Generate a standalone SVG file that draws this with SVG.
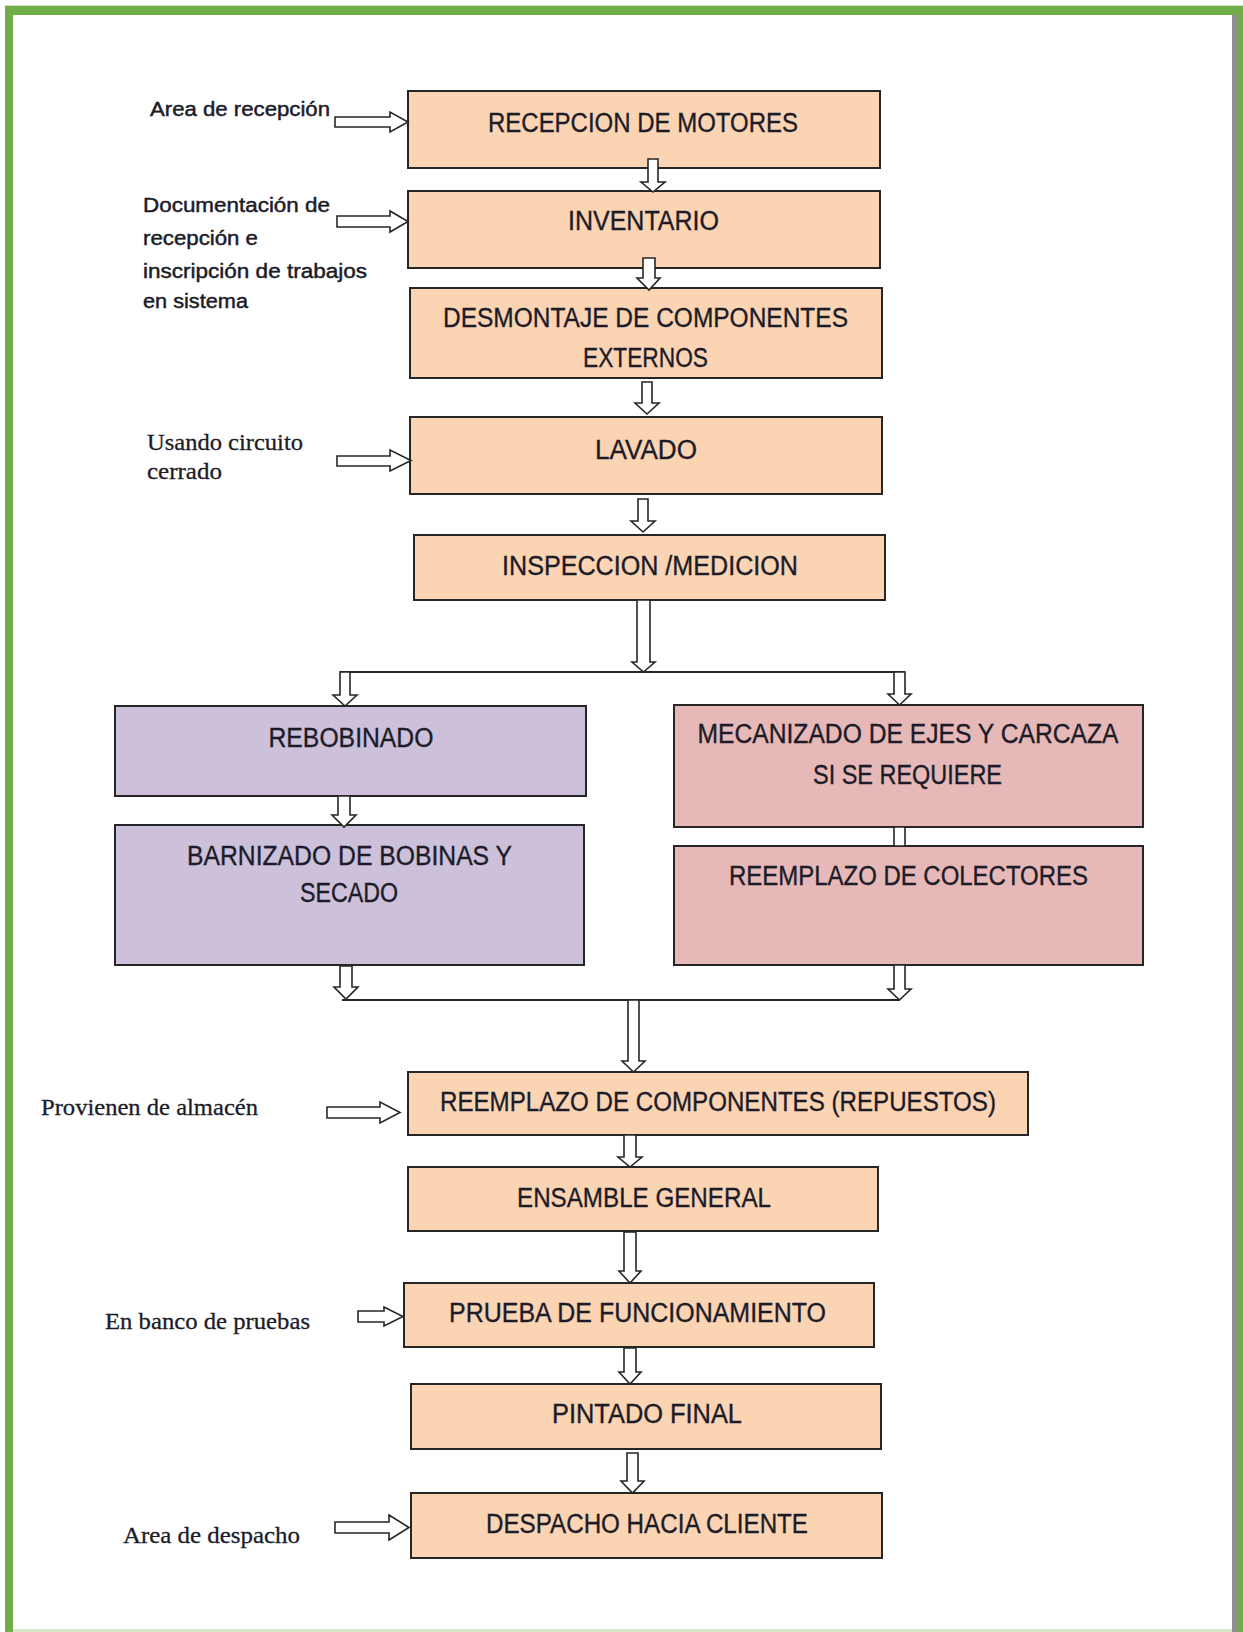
<svg xmlns="http://www.w3.org/2000/svg" width="1243" height="1632" viewBox="0 0 1243 1632">
<style>
.peach{fill:#FBD4B4;stroke:#262626;stroke-width:2}
.purple{fill:#CCC0DA;stroke:#262626;stroke-width:2}
.pink{fill:#E6B8B7;stroke:#262626;stroke-width:2}
.bt{font-family:"Liberation Sans",Arial,sans-serif;font-size:27px;fill:#1c1c28;stroke:#1c1c28;stroke-width:0.35;text-anchor:middle}
.ls{font-family:"Liberation Sans",Arial,sans-serif;font-size:20px;fill:#1c1c28;stroke:#1c1c28;stroke-width:0.45}
.lr{font-family:"Liberation Serif","Times New Roman",serif;font-size:24px;fill:#1c1c28;stroke:#1c1c28;stroke-width:0.3}
.arr{fill:#ffffff;stroke:#262626;stroke-width:1.6;stroke-linejoin:miter}
.ln{fill:none;stroke:#262626;stroke-width:2}
</style>
<rect x="0" y="0" width="1243" height="1632" fill="#ffffff"/>
<g id="frame">
<rect x="5" y="5" width="1238" height="1" fill="#cfe3c0"/>
<rect x="5" y="6" width="1238" height="9" fill="#70AD47"/>
<rect x="5" y="6" width="8" height="1626" fill="#70AD47"/>
<rect x="1232" y="15" width="5" height="1617" fill="#8f8f8f"/>
<rect x="1237" y="6" width="6" height="1626" fill="#70AD47"/>
<rect x="13" y="1629" width="1219" height="3" fill="#d8e7cc"/>
</g>

<g id="n1"><rect class="peach" x="408" y="91" width="472" height="77"/><text class="bt" x="643" y="132" textLength="310" lengthAdjust="spacingAndGlyphs">RECEPCION DE MOTORES</text></g>
<g id="n2"><rect class="peach" x="408" y="191" width="472" height="77"/><text class="bt" x="643.5" y="230" textLength="151" lengthAdjust="spacingAndGlyphs">INVENTARIO</text></g>
<g id="n3"><rect class="peach" x="410" y="288" width="472" height="90"/><text class="bt" x="645.5" y="327" textLength="405" lengthAdjust="spacingAndGlyphs">DESMONTAJE DE COMPONENTES</text><text class="bt" x="645.5" y="367" textLength="125" lengthAdjust="spacingAndGlyphs">EXTERNOS</text></g>
<g id="n4"><rect class="peach" x="410" y="417" width="472" height="77"/><text class="bt" x="646" y="459" textLength="102" lengthAdjust="spacingAndGlyphs">LAVADO</text></g>
<g id="n5"><rect class="peach" x="414" y="535" width="471" height="65"/><text class="bt" x="650" y="575" textLength="296" lengthAdjust="spacingAndGlyphs">INSPECCION /MEDICION</text></g>
<g id="n6"><rect class="purple" x="115" y="706" width="471" height="90"/><text class="bt" x="351" y="747" textLength="165" lengthAdjust="spacingAndGlyphs">REBOBINADO</text></g>
<g id="n7"><rect class="purple" x="115" y="825" width="469" height="140"/><text class="bt" x="349.5" y="865" textLength="325" lengthAdjust="spacingAndGlyphs">BARNIZADO DE BOBINAS Y</text><text class="bt" x="349" y="902" textLength="98" lengthAdjust="spacingAndGlyphs">SECADO</text></g>
<g id="n8"><rect class="pink" x="674" y="705" width="469" height="122"/><text class="bt" x="908" y="743" textLength="421" lengthAdjust="spacingAndGlyphs">MECANIZADO DE EJES Y CARCAZA</text><text class="bt" x="907.5" y="784" textLength="189" lengthAdjust="spacingAndGlyphs">SI SE REQUIERE</text></g>
<g id="n9"><rect class="pink" x="674" y="846" width="469" height="119"/><text class="bt" x="908.5" y="885" textLength="359" lengthAdjust="spacingAndGlyphs">REEMPLAZO DE COLECTORES</text></g>
<g id="n10"><rect class="peach" x="408" y="1072" width="620" height="63"/><text class="bt" x="718" y="1111" textLength="556" lengthAdjust="spacingAndGlyphs">REEMPLAZO DE COMPONENTES (REPUESTOS)</text></g>
<g id="n11"><rect class="peach" x="408" y="1167" width="470" height="64"/><text class="bt" x="644" y="1207" textLength="254" lengthAdjust="spacingAndGlyphs">ENSAMBLE GENERAL</text></g>
<g id="n12"><rect class="peach" x="404" y="1283" width="470" height="64"/><text class="bt" x="637.5" y="1322" textLength="377" lengthAdjust="spacingAndGlyphs">PRUEBA DE FUNCIONAMIENTO</text></g>
<g id="n13"><rect class="peach" x="411" y="1384" width="470" height="65"/><text class="bt" x="647" y="1423" textLength="190" lengthAdjust="spacingAndGlyphs">PINTADO FINAL</text></g>
<g id="n14"><rect class="peach" x="411" y="1493" width="471" height="65"/><text class="bt" x="647" y="1533" textLength="322" lengthAdjust="spacingAndGlyphs">DESPACHO HACIA CLIENTE</text></g>

<g id="l1"><text class="ls" x="150" y="116" textLength="180" lengthAdjust="spacingAndGlyphs">Area de recepción</text></g>
<g id="l2"><text class="ls" x="143" y="212" textLength="187" lengthAdjust="spacingAndGlyphs">Documentación de</text><text class="ls" x="143" y="245" textLength="115" lengthAdjust="spacingAndGlyphs">recepción e</text><text class="ls" x="143" y="278" textLength="224" lengthAdjust="spacingAndGlyphs">inscripción de trabajos</text><text class="ls" x="143" y="308" textLength="105" lengthAdjust="spacingAndGlyphs">en sistema</text></g>
<g id="l3"><text class="lr" x="147" y="450" textLength="156" lengthAdjust="spacingAndGlyphs">Usando circuito</text><text class="lr" x="147" y="479" textLength="75" lengthAdjust="spacingAndGlyphs">cerrado</text></g>
<g id="l4"><text class="lr" x="41" y="1115" textLength="217" lengthAdjust="spacingAndGlyphs">Provienen de almacén</text></g>
<g id="l5"><text class="lr" x="105" y="1329" textLength="205" lengthAdjust="spacingAndGlyphs">En banco de pruebas</text></g>
<g id="l6"><text class="lr" x="123" y="1543" textLength="177" lengthAdjust="spacingAndGlyphs">Area de despacho</text></g>

<g id="connectors">
<polygon class="arr" points="335,117 390,117 390,112 408,122 390,132 390,127 335,127"/>
<polygon class="arr" points="337,216 390,216 390,211 408,221.5 390,232 390,227 337,227"/>
<polygon class="arr" points="337,456 390,456 390,450 411,460.5 390,471 390,466 337,466"/>
<polygon class="arr" points="327,1107 380,1107 380,1102 400,1112.5 380,1123 380,1118 327,1118"/>
<polygon class="arr" points="358,1311 384,1311 384,1307 403,1316.5 384,1326 384,1322 358,1322"/>
<polygon class="arr" points="335,1522 389,1522 389,1515 409,1527.5 389,1540 389,1533 335,1533"/>
<polygon class="arr" points="648,159 658,159 658,182 665,182 653,192 641,182 648,182"/>
<polygon class="arr" points="643,258 655,258 655,278 660,278 649,290 637,278 643,278"/>
<polygon class="arr" points="642,382 652,382 652,403 659,403 647,414 635,403 642,403"/>
<polygon class="arr" points="638,499 648,499 648,521 655,521 643,532 631,521 638,521"/>
<polygon class="arr" points="637,600 650,600 650,662 655,662 643.5,672 632,662 637,662"/>
<line class="ln" x1="340" y1="672" x2="905" y2="672"/>
<polygon class="arr" points="340,672 350,672 350,695 357,695 345,706 333,695 340,695"/>
<polygon class="arr" points="894,672 905,672 905,694 911,694 899.5,705 888,694 894,694"/>
<polygon class="arr" points="338,796 350,796 350,815 356,815 344,827 332,815 338,815"/>
<polygon class="arr" points="894,827 905,827 905,846 894,846"/>
<polygon class="arr" points="340,966 352,966 352,987 358,987 346,999 334,987 340,987"/>
<polygon class="arr" points="894,965 905,965 905,989 911,989 899.5,1000 888,989 894,989"/>
<line class="ln" x1="342" y1="1000" x2="900" y2="1000"/>
<polygon class="arr" points="628,1000 639,1000 639,1061 645,1061 633.5,1072 622,1061 628,1061"/>
<polygon class="arr" points="624,1135 636,1135 636,1157 642,1157 630,1167 618,1157 624,1157"/>
<polygon class="arr" points="624,1232 636,1232 636,1271 641,1271 630,1283 619,1271 624,1271"/>
<polygon class="arr" points="624,1348 636,1348 636,1372 641,1372 630,1384 619,1372 624,1372"/>
<polygon class="arr" points="627,1453 638,1453 638,1481 644,1481 632.5,1493 621,1481 627,1481"/>
</g>
</svg>
